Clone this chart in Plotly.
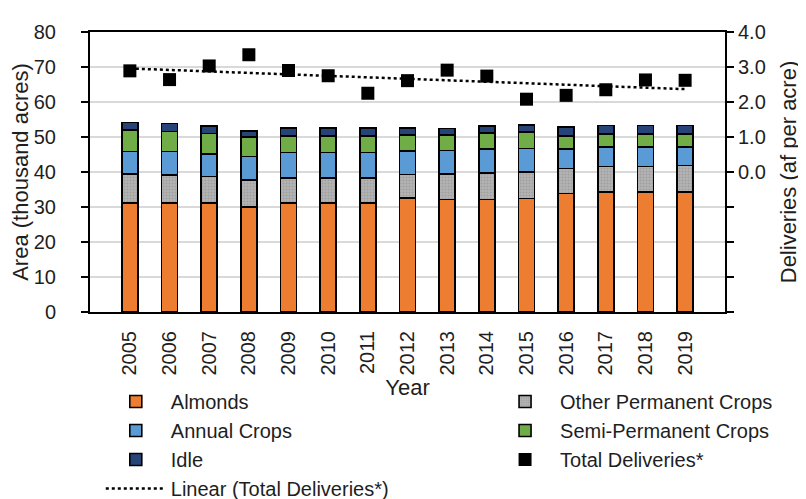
import numpy as np
import plotly.graph_objects as go

years = [str(y) for y in range(2005, 2020)]
almonds = [31.2, 31.2, 31.2, 30.0, 31.2, 31.2, 31.2, 32.6, 32.1, 32.1, 32.4, 33.9, 34.3, 34.3, 34.3]
other_perm = [8.3, 8.0, 7.5, 7.7, 7.1, 7.1, 7.1, 6.7, 7.4, 7.6, 7.6, 7.1, 7.3, 7.3, 7.6]
annual = [6.4, 6.7, 6.4, 6.7, 7.3, 7.3, 7.3, 6.7, 6.7, 6.9, 6.7, 5.6, 5.5, 5.5, 5.2]
semi_perm = [6.1, 5.7, 5.9, 5.6, 4.7, 4.7, 4.7, 4.6, 4.4, 4.5, 4.7, 3.7, 3.7, 3.7, 3.7]
idle = [2.2, 2.3, 2.1, 1.8, 2.2, 2.2, 2.2, 1.9, 1.8, 2.1, 2.1, 2.6, 2.5, 2.5, 2.5]
deliveries = [2.89, 2.64, 3.03, 3.35, 2.90, 2.75, 2.25, 2.61, 2.91, 2.74, 2.08, 2.19, 2.35, 2.63, 2.62]

# Linear trendline (as in Excel "Linear" trendline)
xi = np.arange(len(years))
slope, intercept = np.polyfit(xi, deliveries, 1)
trend = list(intercept + slope * xi)

FONT = "Liberation Sans, Arial, sans-serif"
TXT = "#1e1e1e"
outline = dict(color="black", width=1.6)

fig = go.Figure()
series = [
    ("Almonds", almonds, "#ED7D31", None, "legend"),
    ("Other Permanent Crops", other_perm, "#A5A5A5",
     dict(shape=".", fgcolor="#8a8a8a", bgcolor="#b3b3b3", size=3, solidity=0.35), "legend2"),
    ("Annual Crops", annual, "#5B9BD5", None, "legend"),
    ("Semi-Permanent Crops", semi_perm, "#70AD47", None, "legend2"),
    ("Idle", idle, "#264478", None, "legend"),
]
for name, vals, col, pat, lg in series:
    m = dict(color=col, line=outline)
    if pat:
        m["pattern"] = pat
    fig.add_trace(go.Bar(x=years, y=vals, name=name, marker=m, yaxis="y", legend=lg))

fig.add_trace(go.Scatter(
    x=years, y=deliveries, name="Total Deliveries*", mode="markers",
    marker=dict(symbol="square", size=13, color="black"), yaxis="y2", legend="legend2"))
fig.add_trace(go.Scatter(
    x=years, y=trend, name="Linear (Total Deliveries*)", mode="lines",
    line=dict(color="black", width=2.5, dash="dot"), yaxis="y2", legend="legend"))

legend_common = dict(
    orientation="v", yanchor="top", xanchor="left", itemwidth=60,
    traceorder="normal", font=dict(size=20, color=TXT, family=FONT),
    bgcolor="rgba(0,0,0,0)", tracegroupgap=0,
)

fig.update_layout(
    width=806, height=499,
    margin=dict(l=82, r=89, t=24, b=195, autoexpand=False),
    paper_bgcolor="white", plot_bgcolor="white",
    barmode="stack", bargap=0.6,
    font=dict(family=FONT, size=20, color=TXT),
    xaxis=dict(
        type="category", tickangle=-90, tickfont=dict(size=20),
        showline=True, linecolor="black", linewidth=2, mirror=True,
        ticks="", ticklabelstandoff=9,
        title=dict(text="Year", font=dict(size=22), standoff=3),
    ),
    yaxis=dict(
        range=[0, 80], dtick=10, showgrid=True, gridcolor="#D9D9D9", gridwidth=1.5,
        showline=True, linecolor="black", linewidth=2,
        ticks="outside", ticklen=7, tickwidth=2, tickcolor="black",
        ticklabelstandoff=21,
        zeroline=False, tickfont=dict(size=20),
        title=dict(text="Area (thousand acres)", font=dict(size=22), standoff=2),
    ),
    yaxis2=dict(
        overlaying="y", side="right", range=[-4, 4],
        tickvals=[-4, -3, -2, -1, 0, 1, 2, 3, 4],
        ticktext=["", "", "", "", "0.0", "1.0", "2.0", "3.0", "4.0"],
        showgrid=False, zeroline=False,
        showline=True, linecolor="black", linewidth=2,
        ticks="outside", ticklen=7, tickwidth=2, tickcolor="black",
        ticklabelstandoff=0,
        tickfont=dict(size=20),
        title=dict(text="Deliveries (af per acre)", font=dict(size=22), standoff=16),
    ),
    legend=dict(x=0.017, y=-0.25, **legend_common),
    legend2=dict(x=0.63, y=-0.25, **legend_common),
)

fig.write_html("out.html")
